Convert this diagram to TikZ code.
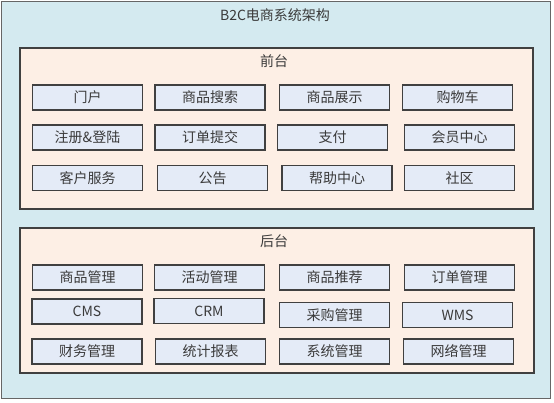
\documentclass[tikz,border=0pt]{standalone}
\usepackage{fontspec}
\setmainfont{Noto Sans CJK SC}
\newfontfamily\cjk{Noto Sans CJK SC}
\definecolor{outerfill}{HTML}{D4EAF0}
\definecolor{panelfill}{HTML}{FDEFE5}
\definecolor{boxfill}{HTML}{E4EBF7}
\definecolor{edge}{HTML}{404040}
\definecolor{txt}{HTML}{3A3A3A}
\tikzset{
  outerbox/.style={draw=edge!80, fill=outerfill, line width=1pt},
  panel/.style={draw=edge, fill=panelfill, line width=1.3pt},
  mod/.style={draw=edge, fill=boxfill, line width=1.2pt, minimum width=110pt, minimum height=25pt, inner sep=0pt, text=txt, font=\cjk\fontsize{14pt}{16pt}\selectfont},
  lbl/.style={text=txt, inner sep=0pt, font=\cjk\fontsize{14pt}{16pt}\selectfont}
}
\begin{document}
\begin{tikzpicture}[x=1pt,y=-1pt]
\useasboundingbox (0,0) rectangle (554,402);
\draw[outerbox] (1,1) rectangle (550,398);
\node[lbl] (title) at (275,15) {B2C电商系统架构};
\draw[panel] (20,48) rectangle (533,209);
\node[lbl] (front) at (274,61) {前台};
\draw[panel] (20,228) rectangle (534,373);
\node[lbl] (back) at (274,241) {后台};
% front
\node[mod] (f11) at (87.5,97.5) {门户};
\node[mod] (f12) at (210,97.5) {商品搜索};
\node[mod] (f13) at (334.5,97.5) {商品展示};
\node[mod] (f14) at (457.5,97.5) {购物车};
\node[mod] (f21) at (87.5,137.5) {注册\&登陆};
\node[mod] (f22) at (210,137.5) {订单提交};
\node[mod] (f23) at (332.5,137.5) {支付};
\node[mod] (f24) at (459.5,137.5) {会员中心};
\node[mod] (f31) at (87.5,178) {客户服务};
\node[mod] (f32) at (212.5,178) {公告};
\node[mod] (f33) at (337,178) {帮助中心};
\node[mod] (f34) at (459.5,178) {社区};
% back
\node[mod] (b11) at (87.5,277.5) {商品管理};
\node[mod] (b12) at (209.5,277.5) {活动管理};
\node[mod] (b13) at (334.5,277.5) {商品推荐};
\node[mod] (b14) at (459.5,277.5) {订单管理};
\node[mod] (b21) at (87,311.5) {CMS};
\node[mod] (b22) at (209,311) {CRM};
\node[mod] (b23) at (334.5,315) {采购管理};
\node[mod] (b24) at (457.5,315) {WMS};
\node[mod] (b31) at (87,351.5) {财务管理};
\node[mod] (b32) at (210.5,351.5) {统计报表};
\node[mod] (b33) at (334.5,351.5) {系统管理};
\node[mod] (b34) at (458.5,351.5) {网络管理};
\end{tikzpicture}
\end{document}
